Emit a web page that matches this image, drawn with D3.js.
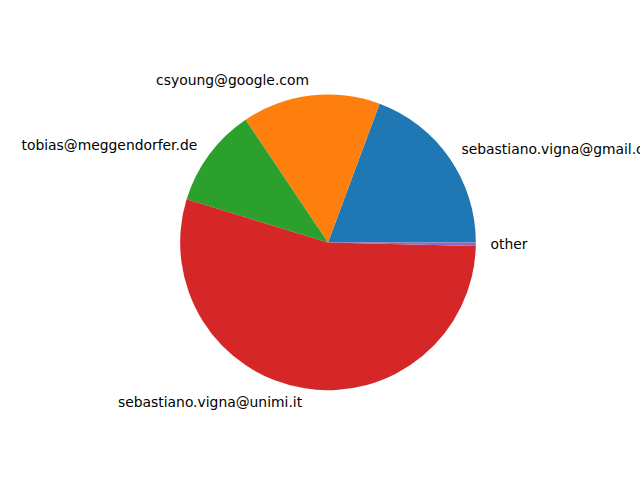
<!DOCTYPE html>
<html>
<head>
<meta charset="utf-8">
<script src="https://cdn.jsdelivr.net/npm/d3@7"></script>
<style>
  html, body { margin: 0; padding: 0; background: #fff; }
  svg { display: block; }
</style>
</head>
<body>
<script>
const labels = ["sebastiano.vigna@gmail.com", "csyoung@google.com", "tobias@meggendorfer.de", "sebastiano.vigna@unimi.it", "other"];
const values = [19.33, 15.08, 10.89, 54.31, 0.39];
const colors = ["#1f77b4", "#ff7f0e", "#2ca02c", "#d62728", "#9467bd"];

const W = 640, H = 480;
const cx = 328, cy = 242.4, r = 147.84;

const svg = d3.select("body").append("svg").attr("width", W).attr("height", H);

const data = labels.map((l, i) => ({label: l, value: values[i], color: colors[i]}));

const pie = d3.pie().sort(null).value(d => d.value)
  .startAngle(Math.PI / 2).endAngle(Math.PI / 2 - 2 * Math.PI);
const arcs = pie(data);
const arc = d3.arc().innerRadius(0).outerRadius(r);

const g = svg.append("g").attr("transform", `translate(${cx},${cy})`);
g.selectAll("path").data(arcs).join("path")
  .attr("d", arc)
  .attr("fill", d => d.data.color);

g.selectAll("text").data(arcs).join("text")
  .each(function(d) {
    const mid = (d.startAngle + d.endAngle) / 2; // d3 angle: 0 at top, clockwise
    const x = 1.1 * r * Math.sin(mid);
    const y = -1.1 * r * Math.cos(mid);
    d3.select(this)
      .attr("x", x).attr("y", y)
      .attr("dy", "0.32em")
      .attr("text-anchor", x > 0 ? "start" : "end");
  })
  .attr("font-family", "DejaVu Sans, sans-serif")
  .attr("font-size", "13.89px")
  .attr("fill", "#000")
  .text(d => d.data.label);
</script>
</body>
</html>
